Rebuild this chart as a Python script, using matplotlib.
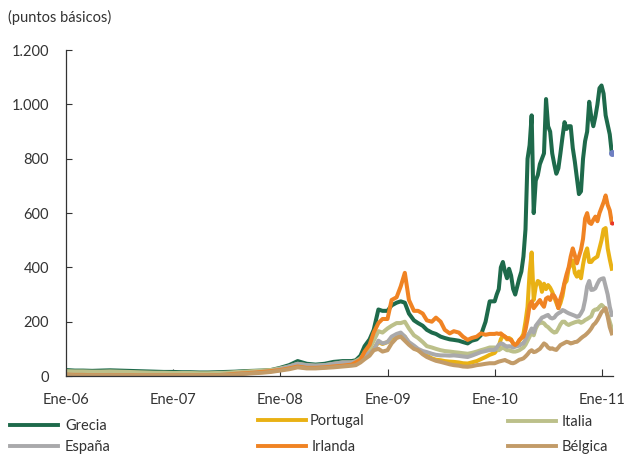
import matplotlib
matplotlib.use("Agg")
import matplotlib.pyplot as plt
from matplotlib.lines import Line2D
import pandas as pd

plt.rcParams['font.family'] = ['Lato', 'DejaVu Sans']

# ---- dates (monthly 2006-08/2008, semi-monthly to end-2009, weekly 2010-2011)
dates = (list(pd.date_range('2006-01-01', '2008-08-01', freq='MS')) +
         list(pd.date_range('2008-09-01', '2009-12-15', freq='SMS')) +
         list(pd.date_range('2010-01-01', periods=58, freq='7D')))

grecia = [22, 20, 20, 19, 20, 21, 20, 19, 18, 17, 16, 15,
          15, 14, 14, 13, 13, 14, 15, 16, 18, 19, 20, 22,
          30, 40, 55, 45, 42, 45, 52, 55,
          55, 58, 75, 110, 135, 170, 245, 240, 240, 260, 270, 275, 270,
          230, 205, 195, 185, 170, 160, 155, 145, 140, 135, 133, 130, 125, 120,
          130, 135, 150, 200, 275,
          275, 300, 320, 400, 420, 385, 360, 395, 370, 320, 300, 330, 360, 385, 440, 540,
          800, 850, 960, 600, 720, 740, 780, 800, 820, 1020, 920, 900, 820, 780,
          745, 765, 820, 880, 935, 910, 920, 920, 840, 790, 730, 670, 680, 800,
          865, 900, 1010, 955, 920, 955, 1000, 1060, 1070, 1040, 960, 925, 890, 820]

portugal = [15, 14, 14, 13, 13, 14, 13, 12, 11, 10, 10, 10,
            9, 9, 9, 8, 8, 9, 10, 12, 14, 16, 18, 20,
            25, 30, 40, 35, 33, 35, 40, 45,
            48, 50, 58, 72, 85, 100, 125, 118, 125, 140, 150, 155, 145,
            120, 105, 95, 85, 75, 65, 60, 58, 55, 53, 52, 50, 47, 46,
            50, 55, 62, 70, 78,
            85, 95, 110, 135, 150, 145, 135, 140, 135, 120, 110, 120, 130, 140, 155, 200,
            255, 380, 455, 280, 330, 350, 345, 310, 340, 320, 335, 325, 310, 290,
            270, 250, 268, 295, 340, 350, 395, 410, 425, 380, 366, 385, 360, 410,
            450, 470, 420, 420, 430, 435, 440, 470, 500, 540, 545, 470, 430, 395]

italia = [18, 17, 17, 16, 16, 17, 16, 15, 14, 13, 12, 12,
          11, 11, 11, 10, 10, 11, 12, 14, 16, 18, 20, 22,
          28, 35, 45, 40, 38, 40, 45, 50,
          50, 55, 65, 85, 100, 130, 165, 160, 175, 185, 195, 195, 200,
          175, 150, 140, 125, 110, 105, 100, 95, 92, 90, 88, 86, 84, 82,
          85, 90, 95, 100, 105,
          105, 100, 95, 100, 105, 100, 95, 95, 92, 90, 90, 92, 95, 100, 105, 115,
          130, 145, 165, 150, 175, 190, 195, 198, 194, 185, 180, 172, 165, 160,
          162, 175, 190, 200, 200, 192, 188, 192, 195, 198, 200, 202, 196, 200,
          206, 210, 215, 220, 240, 245, 245, 255, 262, 255, 240, 225, 200, 175]

espana = [5, 4, 4, 3, 3, 4, 3, 3, 2, 2, 2, 2,
          2, 2, 2, 2, 2, 3, 5, 8, 10, 12, 15, 18,
          25, 35, 45, 40, 38, 40, 45, 50,
          50, 52, 60, 75, 85, 95, 130, 120, 125, 145, 155, 160, 145,
          125, 112, 100, 92, 88, 82, 78, 76, 76, 75, 76, 74, 72, 70,
          75, 82, 88, 92, 96,
          96, 105, 115, 120, 118, 112, 108, 110, 108, 105, 108, 110, 112, 118, 120, 135,
          150, 160, 175, 160, 185, 195, 205, 215, 218, 222, 225, 215, 212, 215,
          225, 231, 235, 243, 240, 235, 231, 228, 225, 222, 218, 220, 231, 245,
          280, 330, 350, 317, 318, 323, 340, 354, 358, 360, 330, 300, 255, 225]

irlanda = [5, 4, 4, 3, 3, 3, 3, 3, 2, 2, 2, 2,
           2, 2, 2, 2, 2, 3, 5, 8, 10, 12, 15, 18,
           22, 28, 35, 30, 30, 32, 35, 38,
           42, 50, 60, 90, 115, 160, 195, 210, 210, 280, 290, 330, 380,
           280, 240, 240, 230, 205, 200, 215, 200, 170, 157, 165, 160, 145, 133,
           140, 145, 157, 152, 155,
           155, 157, 155, 157, 150, 145, 140, 135, 133, 120, 114, 120, 133, 140, 145, 170,
           210, 260, 275, 250, 260, 270, 280, 265, 255, 285, 290, 280, 300, 295,
           280, 250, 285, 310, 345, 375, 400, 440, 470, 445, 415, 440, 465, 505,
           580, 600, 565, 560, 575, 587, 570, 600, 620, 640, 665, 630, 610, 565]

belgica = [4, 3, 3, 3, 3, 3, 3, 3, 2, 2, 2, 2,
           2, 2, 2, 2, 2, 3, 4, 6, 8, 10, 12, 15,
           20, 25, 32, 28, 28, 30, 32, 35,
           38, 40, 50, 62, 75, 95, 100, 90, 95, 120, 140, 145, 130,
           115, 100, 95, 80, 70, 62, 56, 52, 48, 43, 40, 38, 35, 34,
           36, 40, 42, 45, 47,
           47, 50, 53, 55, 57, 59, 55, 52, 48, 47, 50, 55, 60, 62, 65, 72,
           80, 90, 95, 88, 90, 95, 100, 110, 120, 115, 105, 100, 102, 98,
           96, 105, 114, 118, 122, 126, 124, 120, 122, 125, 126, 132, 139, 145,
           150, 157, 165, 175, 188, 195, 206, 220, 235, 243, 250, 218, 180, 157]

colors = {'Grecia': '#1e6a4b', 'España': '#a9a9ab', 'Portugal': '#e9b114',
          'Irlanda': '#f08323', 'Italia': '#bcc08a', 'Bélgica': '#c29b68'}
series = {'Grecia': grecia, 'España': espana, 'Portugal': portugal,
          'Irlanda': irlanda, 'Italia': italia, 'Bélgica': belgica}

yticks = [0, 200, 400, 600, 800, 1000, 1200]
ytick_labels = ['0', '200', '400', '600', '800', '1.000', '1.200']
xtick_dates = ['2006-01-01', '2007-01-01', '2008-01-01', '2009-01-01',
               '2010-01-01', '2011-01-01']
xtick_labels = ['Ene-06', 'Ene-07', 'Ene-08', 'Ene-09', 'Ene-10', 'Ene-11']

txt = '#333333'
fig = plt.figure(figsize=(6.26, 4.55), dpi=100)
ax = fig.add_axes([0.105, 0.1736, 0.8742, 0.7161])

lw = 2.9
for n in ['Grecia', 'Portugal', 'Italia', 'España', 'Irlanda', 'Bélgica']:
    ax.plot(dates, series[n], color=colors[n], lw=lw, solid_joinstyle='round')
ax.plot(dates[-1], grecia[-1], 'o', color='#6f7fc2', ms=4)
ax.plot(dates[-1], irlanda[-1], 'o', color='#e8352a', ms=2)

ax.set_ylim(0, 1200)
ax.set_xlim(pd.Timestamp('2006-01-01'), pd.Timestamp('2011-02-08'))
ax.set_yticks(yticks)
ax.set_yticklabels(ytick_labels)
ax.set_xticks([pd.Timestamp(d) for d in xtick_dates])
ax.set_xticklabels(xtick_labels)
ax.tick_params(axis='y', direction='in', length=4, width=0.8, pad=12,
               labelsize=10.5, colors=txt)
ax.tick_params(axis='x', direction='in', length=5, width=0.8, pad=12,
               labelsize=10.5, colors=txt)
for s in ['top', 'right']:
    ax.spines[s].set_visible(False)
for s in ['left', 'bottom']:
    ax.spines[s].set_color('#333333')
    ax.spines[s].set_linewidth(0.9)

fig.text(8 / 626, 1 - 17 / 455, '(puntos básicos)', fontsize=10.5, color=txt,
         ha='left', va='center')

# legend (manual, three columns)
leg = [('Grecia', 10, 58, 425, 65), ('España', 10, 58, 446, 65),
       ('Portugal', 258, 306, 420, 310), ('Irlanda', 258, 306, 446, 312),
       ('Italia', 508, 556, 421, 562), ('Bélgica', 508, 556, 446, 562)]
for n, x0, x1, y, xt in leg:
    fig.add_artist(Line2D([x0 / 626, x1 / 626], [1 - y / 455, 1 - y / 455],
                          color=colors[n], lw=2.8, transform=fig.transFigure))
    fig.text(xt / 626, 1 - (y + 1) / 455, n, fontsize=10.5, color=txt,
             ha='left', va='center')

fig.savefig('out.png', dpi=100)
